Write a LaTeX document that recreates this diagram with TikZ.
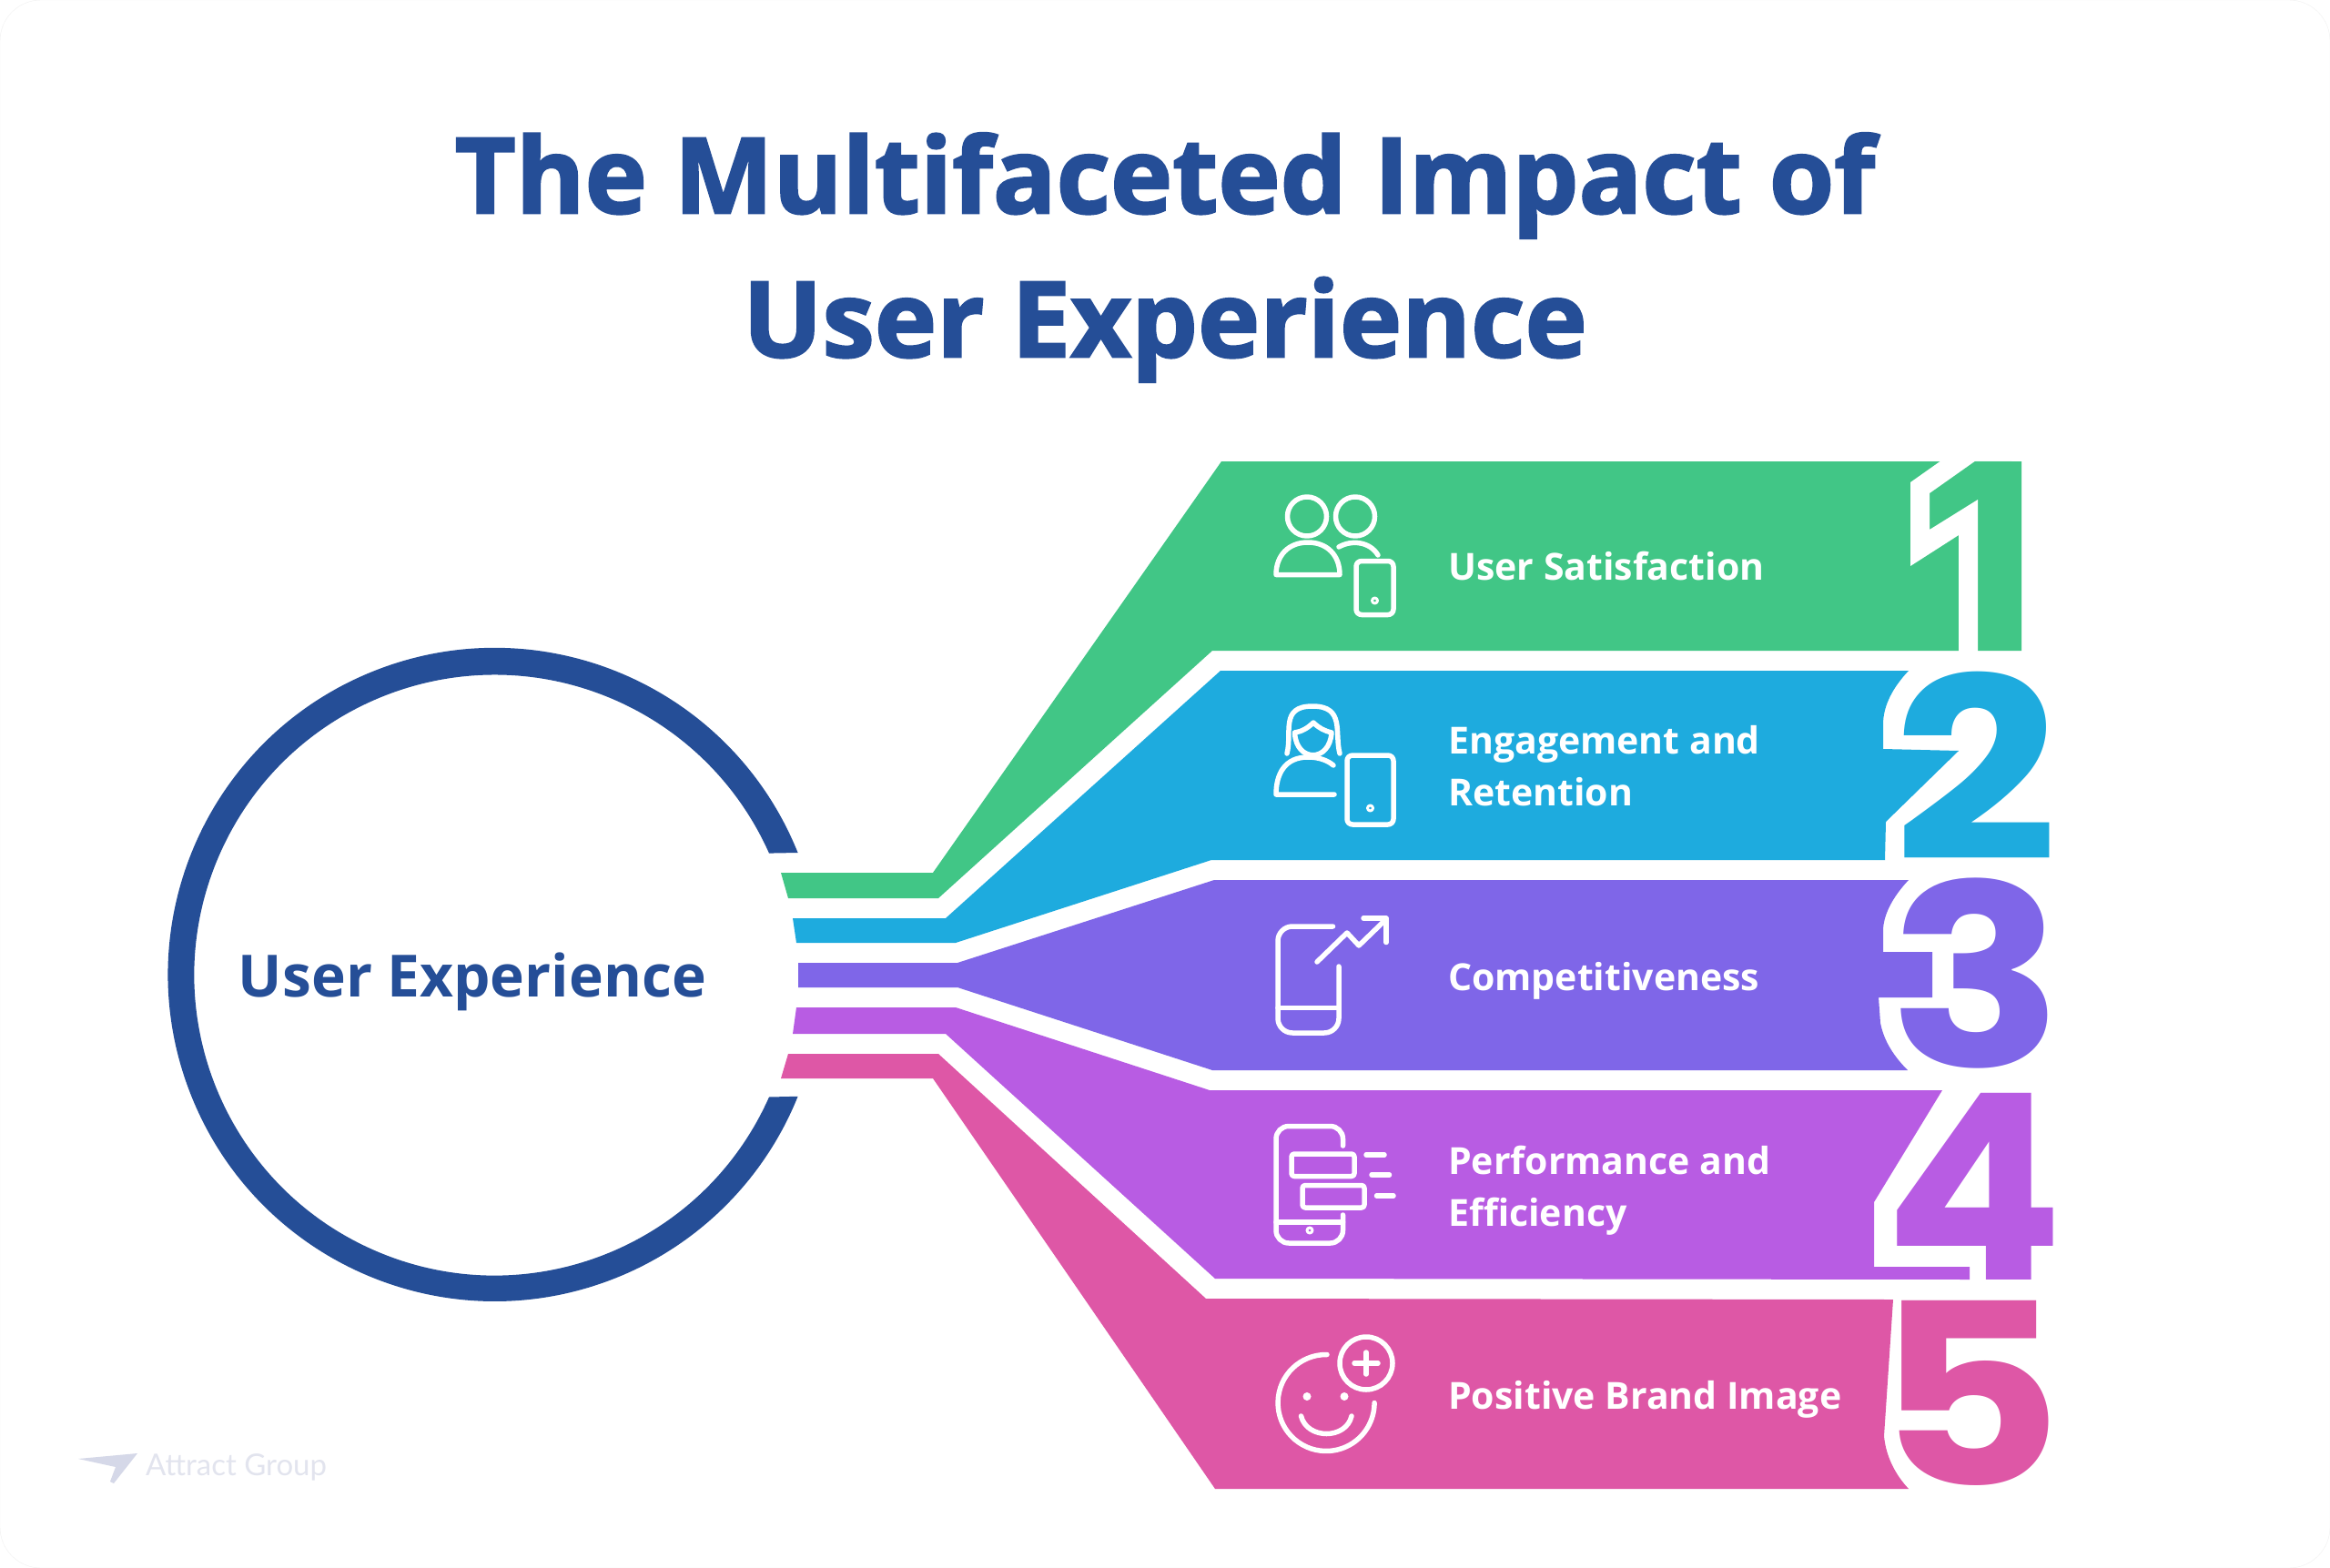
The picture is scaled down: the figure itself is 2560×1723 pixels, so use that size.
\documentclass[tikz,border=0pt]{standalone}
\usepackage{xcolor}
\usepackage{fontspec}
\setmainfont{Open Sans}
\newfontfamily\digitfont{Poppins}
\newfontfamily\markfont{Lato}
\definecolor{uxNavy}{HTML}{254E97}
\definecolor{uxGreen}{HTML}{41C686}
\definecolor{uxBlue}{HTML}{1EABDE}
\definecolor{uxPurple}{HTML}{7F66E8}
\definecolor{uxViolet}{HTML}{B85CE3}
\definecolor{uxPink}{HTML}{DE57A6}
\definecolor{uxMark}{HTML}{E2E4EE}
\definecolor{uxMarkDark}{HTML}{D5D8E8}
\tikzset{
  % Page title
  titletext/.style={font=\bfseries\addfontfeature{FakeBold=2}\fontsize{115.5}{163}\selectfont,text=uxNavy,
    align=center,inner sep=0pt},
  % Text of the circle
  hubtext/.style={font=\bfseries\fontsize{64}{72}\selectfont,text=uxNavy,inner sep=0pt},
  % White band label
  bandtext/.style={font=\bfseries\fontsize{41}{57}\selectfont,text=white,
    align=left,anchor=west,inner sep=0pt},
  % Big numbers, size and stretch as arguments
  numfill/.style 2 args={font=\digitfont\bfseries\addfontfeature{FakeStretch=#2}\fontsize{#1}{#1}\selectfont,
    anchor=base east,inner sep=0pt},
  % Thin white icon line
  icon/.style={draw=white,line width=5.5pt,line cap=round,line join=round},
}
\begin{document}
\begin{tikzpicture}[x=1pt,y=-1pt]
  \useasboundingbox (0,0) rectangle (2560,1723);
  \fill[white] (0,0) rectangle (2560,1723);
  \draw[black!6,fill=white,rounded corners=45pt] (0,0) rectangle (2560,1723);

  % Title
  \node[titletext] (title) at (1280,283) {The Multifaceted Impact of\\[-5pt]User Experience};

  % Circle
  \fill[uxNavy] (876.6,937) arc[start angle=-21.9,end angle=-338.1,radius=359]
    -- (845,1205.5) arc[start angle=-336.05,end angle=-23.95,radius=330] -- cycle;
  \node[hubtext] (hub) at (519,1079) {User Experience};

  % Bands
  \fill[uxGreen] (858,959) -- (1025,959) -- (1342,507) -- (2221,507) -- (2221,715)
    -- (1332,715) -- (1031,987) -- (866,987) -- cycle;
  \fill[uxBlue] (871,1009) -- (1039,1009) -- (1341,737) -- (2097,737)
    .. controls (2080,755) and (2069,775) .. (2069,796)
    -- (2069,823) -- (2152,825) -- (2072,903) -- (2071,945) -- (1331,945)
    -- (1050,1036) -- (875,1036) -- cycle;
  \fill[uxPurple] (877,1058) -- (1052,1058) -- (1334,967) -- (2097,967)
    .. controls (2080,985) and (2069,1005) .. (2069,1023)
    -- (2069,1046) -- (2123,1046) -- (2123,1096) -- (2064,1096) -- (2066,1124)
    .. controls (2070,1145) and (2082,1162) .. (2096,1176) -- (1332,1176)
    -- (1052,1085) -- (877,1085) -- cycle;
  \fill[uxViolet] (875,1107) -- (1050,1107) -- (1329,1198) -- (2134,1198) -- (2059,1321)
    -- (2059,1392) -- (2164,1392) -- (2164,1406) -- (1335,1405) -- (1039,1136) -- (871,1136) -- cycle;
  \fill[uxPink] (866,1158) -- (1031,1158) -- (1325,1427) -- (2080,1428) -- (2070,1578)
    .. controls (2072,1600) and (2082,1620) .. (2097,1636)
    -- (1335,1636) -- (1025,1185) -- (858,1185) -- cycle;

  % Numbers
  \node[numfill={285}{0.95},text=uxGreen] (num1) at (2230,715) {1};
  \node[numfill={278}{1.14},text=uxBlue] (num2) at (2262,945) {2};
  \node[numfill={278}{1.14},text=uxPurple] (num3) at (2267,1172) {3};
  \node[numfill={285}{1.02},text=uxViolet] (num4) at (2267,1406) {4};
  \node[numfill={278}{1.14},text=uxPink] (num5) at (2267,1632) {5};

  % White channel round the 1
  \fill[white] (2133,506) -- (2099,530) -- (2099,622) -- (2152,588) -- (2152,716) -- (2173,716)
    -- (2173,549) -- (2120,582) -- (2120,542) -- (2171,506) -- cycle;

  % Band labels
  \node[bandtext] (sat) at (1591,622) {User Satisfaction};
  \node[bandtext] (eng) at (1591,842) {Engagement and\\Retention};
  \node[bandtext] (com) at (1591,1078) {Competitiveness};
  \node[bandtext] (per) at (1591,1308) {Performance and\\Efficiency};
  \node[bandtext] (pos) at (1591,1538) {Positive Brand Image};

  % Two users and a phone
  \draw[icon] (1436,567.5) circle[radius=21.5];
  \draw[icon] (1489,567.5) circle[radius=21.5];
  \draw[icon] (1402,631.5) .. controls (1402,610) and (1416,596) .. (1437,596)
    .. controls (1458,596) and (1472,610) .. (1472,631.5) -- cycle;
  \draw[icon] (1471,601) .. controls (1485,593) and (1505,595) .. (1514,610);
  \draw[icon,rounded corners=6pt] (1490,616.5) rectangle (1531,675.5);
  \draw[icon,line width=3pt] (1510.5,660) circle[radius=3];

  % Woman and a phone
  \draw[icon] (1414,828) .. controls (1420,805) and (1406,776) .. (1442,776)
    .. controls (1478,776) and (1466,805) .. (1472,828);
  \draw[icon] (1422.5,805) .. controls (1424,838) and (1461,838) .. (1463,805)
    .. controls (1455,803) and (1449,800) .. (1443,794) .. controls (1437,800) and (1430,804) .. (1422.5,805);
  \draw[icon] (1466,873) -- (1402,873) .. controls (1402,850) and (1412,832) .. (1437,832)
    .. controls (1448,832) and (1458,835) .. (1465,841);
  \draw[icon,rounded corners=6pt] (1480,830) rectangle (1531,906);
  \draw[icon,line width=3pt] (1505.5,888) circle[radius=3];

  % Phone and rising arrow
  \draw[icon,rounded corners=16pt] (1464.5,1018) -- (1404,1018) -- (1404,1135) -- (1471,1135) -- (1471,1062);
  \draw[icon] (1404,1107.5) -- (1471,1107.5);
  \draw[icon] (1447,1057) -- (1480,1025) -- (1493,1039) -- (1523,1010);
  \draw[icon] (1498,1009) -- (1523,1009) -- (1523,1035.5);

  % Phone with two bars
  \draw[icon,rounded corners=14pt] (1475.5,1259) -- (1475.5,1237.5) -- (1402,1237.5) -- (1402,1366)
    -- (1475.5,1366) -- (1475.5,1335);
  \draw[icon] (1402,1343) -- (1475.5,1343);
  \draw[icon,line width=3pt] (1439,1352) circle[radius=3];
  \draw[icon,rounded corners=3pt] (1419,1268) rectangle (1488,1292.5);
  \draw[icon,rounded corners=3pt] (1431,1302.5) rectangle (1499,1327);
  \draw[icon] (1501,1269) -- (1521,1269);
  \draw[icon] (1507,1291) -- (1526.5,1291);
  \draw[icon] (1512.5,1314) -- (1531,1314);

  % Face with a plus
  \draw[icon] (1458,1488.5) arc[start angle=-89,end angle=-360,radius=53];
  \fill[white] (1436,1534.5) circle[radius=4.5];
  \fill[white] (1477,1534.5) circle[radius=4.5];
  \draw[icon] (1429.5,1556) .. controls (1436,1582) and (1479,1582) .. (1485,1556);
  \draw[icon] (1501,1498) circle[radius=29];
  \draw[icon] (1488,1498) -- (1514,1498);
  \draw[icon] (1501,1486) -- (1501,1510);

  % Logo
  \fill[uxMarkDark] (86,1603) -- (151,1597) -- (125,1630) -- (121,1628) -- (127,1612) -- cycle;
  \node[font=\markfont\fontsize{33}{36}\selectfont,text=uxMark,anchor=west,inner sep=0pt] (logo) at (160,1612) {Attract Group};
\end{tikzpicture}
\end{document}
